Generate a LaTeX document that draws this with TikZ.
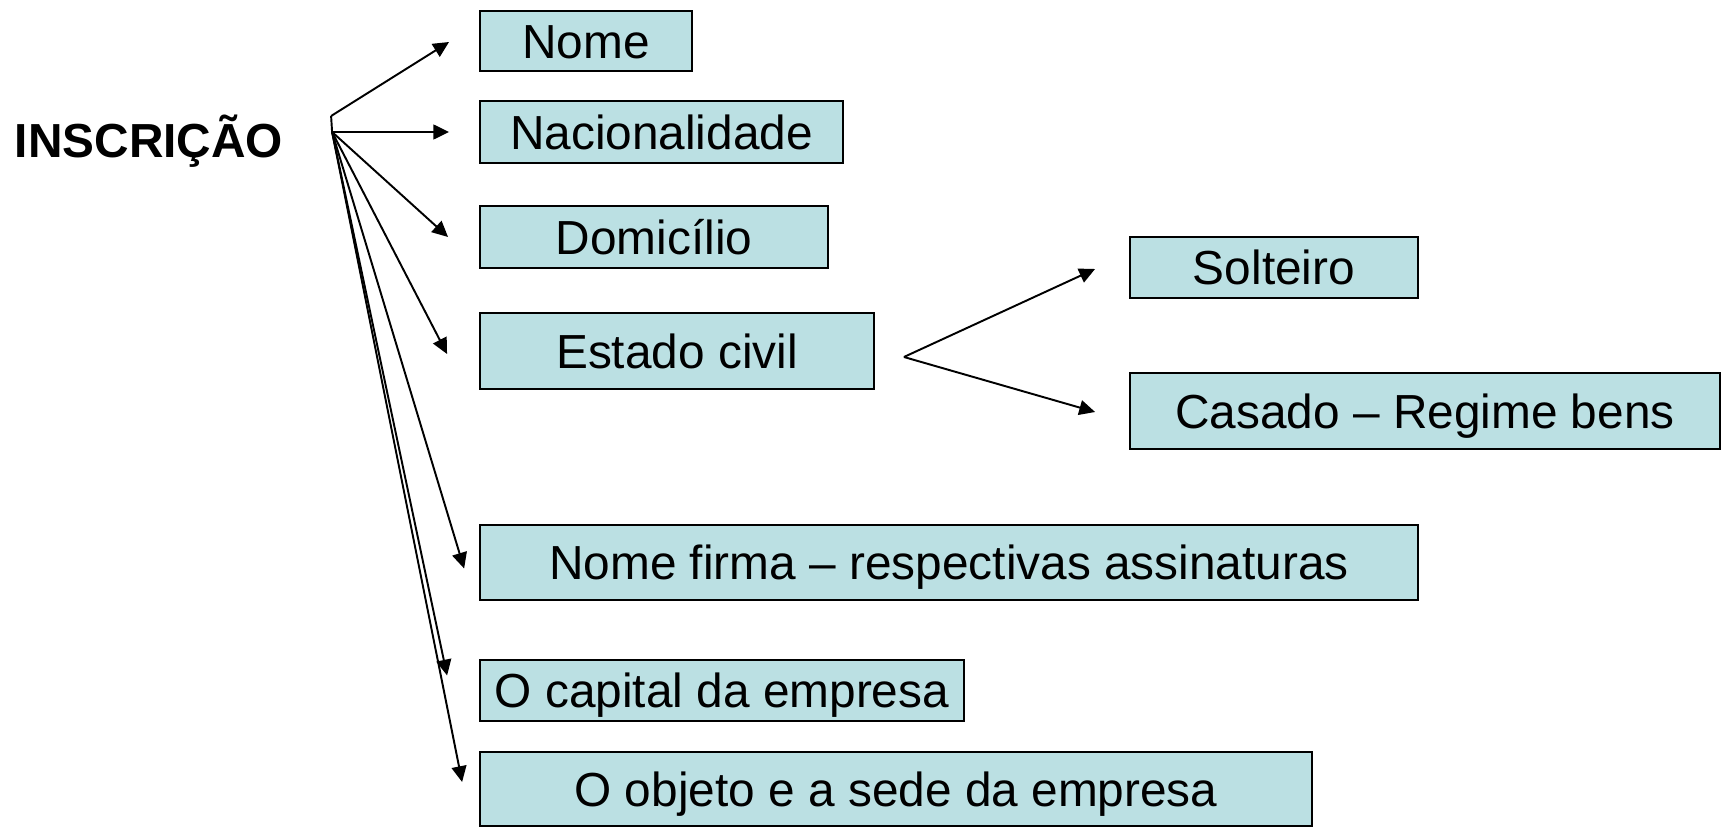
\documentclass[tikz,border=0pt]{standalone}
\usepackage{fontspec}
\setmainfont{Liberation Sans}
\usepackage{tikz}
\usetikzlibrary{arrows.meta, positioning, calc}
\definecolor{azul}{HTML}{BBE0E3}

\begin{document}
\begin{tikzpicture}[->, >={Triangle[length=9pt,width=8.5pt]}, line width=1.1pt, x=0.02cm, y=-0.02cm]
        \tikzstyle{every node}=[font=\fontsize{27.2pt}{32pt}\selectfont]
        \tikzstyle{campo}=[draw=black, fill=azul, inner sep=0pt, text height=19.5pt, text depth=0pt]
        \useasboundingbox (0,0) rectangle (1722,828);
        \node[anchor=base west, inner sep=0pt, font=\fontsize{27.2pt}{32pt}\selectfont\bfseries] (INS) at (14,157) {INSCRIÇÃO};
        \node[campo, minimum width=4.24cm, minimum height=1.2cm]   (NOM) at (586,41)    {Nome};
        \node[campo, minimum width=7.26cm, minimum height=1.24cm]  (NAC) at (661.5,132) {Nacionalidade};
        \node[campo, minimum width=6.96cm, minimum height=1.24cm]  (DOM) at (654,237)   {Domicílio};
        \node[campo, minimum width=7.88cm, minimum height=1.52cm]  (EST) at (677,351)   {Estado civil};
        \node[campo, minimum width=5.76cm, minimum height=1.22cm]  (SOL) at (1274,267.5) {Solteiro};
        \node[campo, minimum width=11.8cm, minimum height=1.52cm]  (CAS) at (1425,411)  {Casado – Regime bens};
        \node[campo, minimum width=18.76cm, minimum height=1.5cm]  (FIR) at (949,562.5) {Nome firma – respectivas assinaturas};
        \node[campo, minimum width=9.68cm, minimum height=1.22cm]  (CAP) at (722,690.5) {O capital da empresa};
        \node[campo, minimum width=16.64cm, minimum height=1.48cm] (OBJ) at (896,789)   {O objeto e a sede da empresa};
        % pontos de saida e de chegada
        \coordinate (O) at ($(INS.base east)+(48,-25)$);
        \coordinate (K) at ($(O)+(-1,-16)$);
        \coordinate (V) at ($(EST.east)+(29,6)$);
        \coordinate (tNOM) at ($(NOM.west)+(-30,1)$);
        \coordinate (tNAC) at ($(NAC.west)+(-30,0)$);
        \coordinate (tDOM) at ($(DOM.west)+(-31,0)$);
        \coordinate (tEST) at ($(EST.west)+(-32,3)$);
        \coordinate (tFIR) at ($(FIR.west)+(-15,6)$);
        \coordinate (tCAP) at ($(CAP.west)+(-32,-15)$);
        \coordinate (tOBJ) at ($(OBJ.west)+(-17,-7)$);
        \coordinate (tSOL) at ($(SOL.west)+(-34,1.5)$);
        \coordinate (tCAS) at ($(CAS.west)+(-34,1)$);
        \draw[-] (O) -- (K);
        \path
        (K) edge (tNOM)
        (O) edge (tNAC)
            edge (tDOM)
            edge (tEST)
            edge (tFIR)
            edge (tCAP)
            edge (tOBJ)
        (V) edge (tSOL)
            edge (tCAS);
\end{tikzpicture}
\end{document}
